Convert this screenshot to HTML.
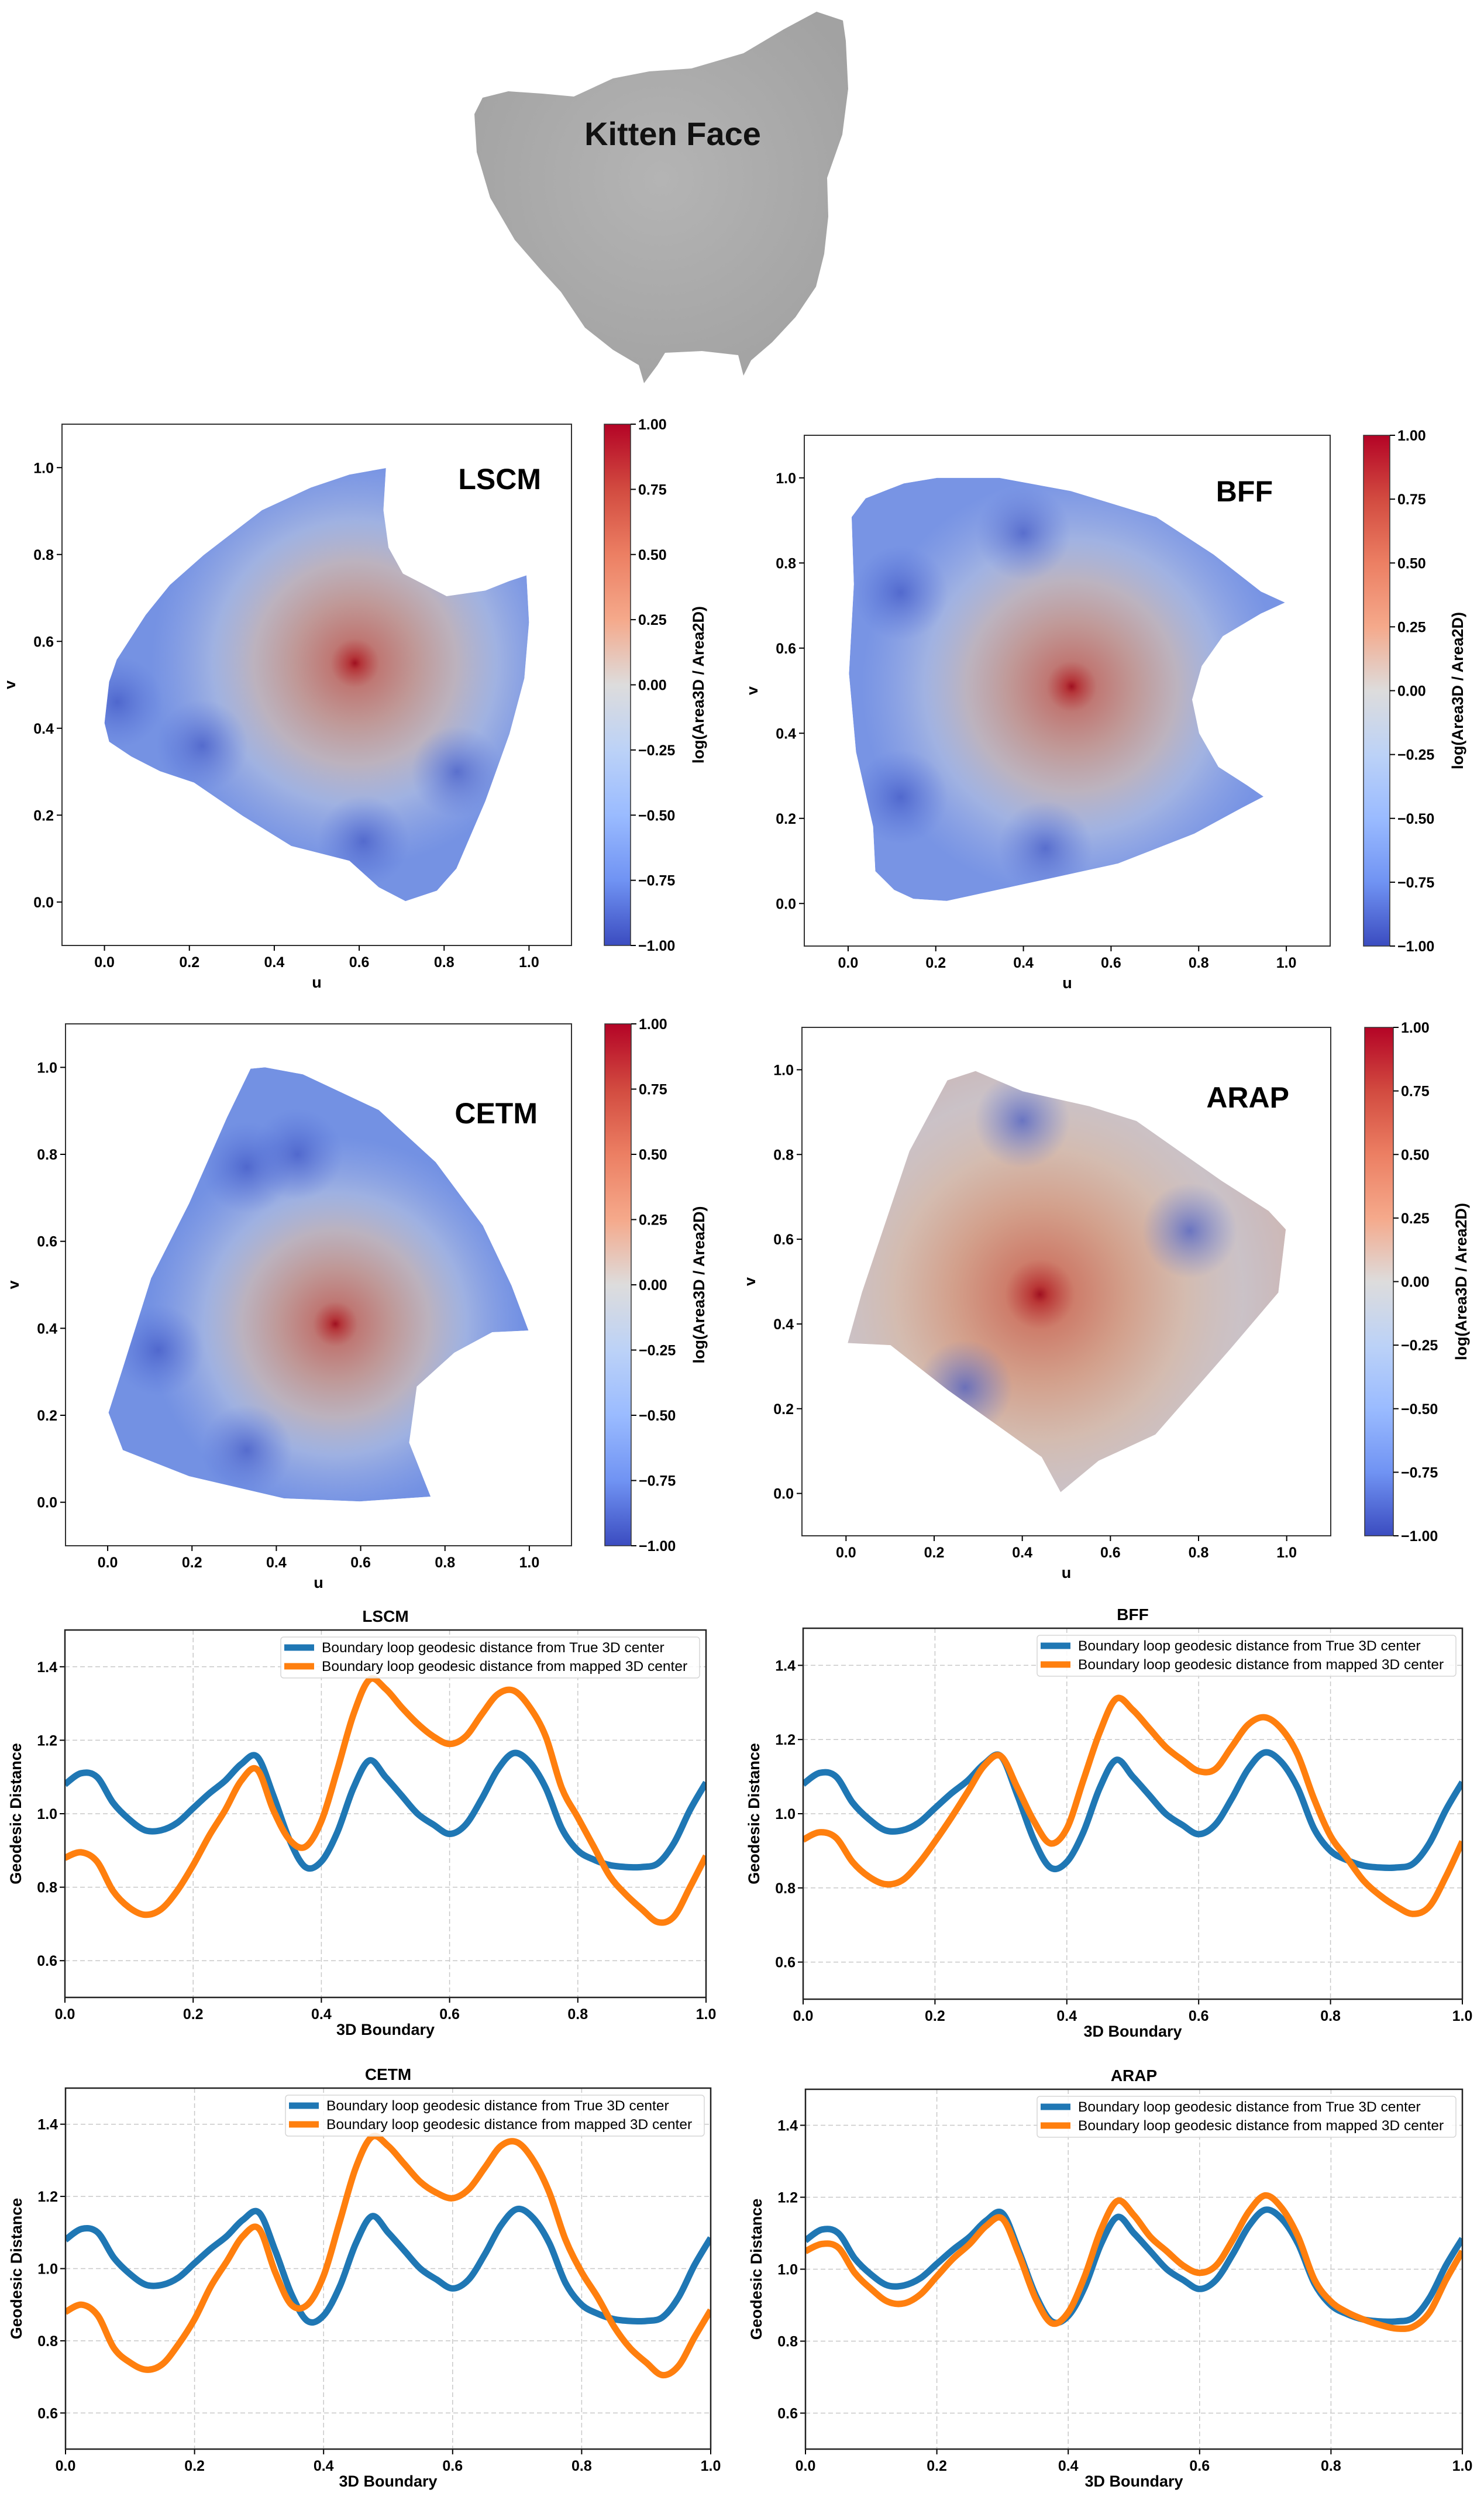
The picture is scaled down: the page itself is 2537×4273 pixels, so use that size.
<!DOCTYPE html>
<html><head><meta charset="utf-8"><style>
html,body{margin:0;padding:0;background:#fff;}
svg{display:block;font-family:"Liberation Sans",sans-serif;}
</style></head><body>
<svg id="fig" xmlns="http://www.w3.org/2000/svg" width="2537" height="4273" viewBox="0 0 2537 4273">
<defs>
<linearGradient id="cw" x1="0" y1="0" x2="0" y2="1">
<stop offset="0" stop-color="#b40426"/><stop offset="0.125" stop-color="#d24b40"/><stop offset="0.25" stop-color="#ec7f63"/><stop offset="0.375" stop-color="#f5a98b"/><stop offset="0.5" stop-color="#dddcdc"/><stop offset="0.625" stop-color="#bcd2f7"/><stop offset="0.75" stop-color="#9abbff"/><stop offset="0.875" stop-color="#7093f3"/><stop offset="1" stop-color="#3b4cc0"/>
</linearGradient>
<radialGradient id="kg" cx="0.5" cy="0.45" r="0.6"><stop offset="0" stop-color="#b4b4b4"/><stop offset="1" stop-color="#a2a2a2"/></radialGradient>
</defs>
<g>
<path d="M825,167 L811,195 L815,260 L838,338 L880,410 L927,464 L959,499 L1000,560 L1048,598 L1092,624 L1101,655 L1124,624 L1137,603 L1200,600 L1262,607 L1271,642 L1284,616 L1320,585 L1360,542 L1395,490 L1409,434 L1416,370 L1414,304 L1440,230 L1450,152 L1446,70 L1441,35 L1396,20 L1340,50 L1271,91 L1182,117 L1110,122 L1048,134 L981,165 L927,160 L869,156 Z" fill="url(#kg)"/>
<text x="1150" y="248" text-anchor="middle" font-size="56" font-weight="bold" fill="#111">Kitten Face</text>
</g>
<g id="heat"></g>
<g id="lines"></g>
</svg>
<script>
// ---------- Line chart data ----------
const xs = [0,0.025,0.05,0.075,0.1,0.125,0.15,0.175,0.2,0.225,0.25,0.275,0.3,0.325,0.35,0.375,0.4,0.425,0.45,0.475,0.5,0.525,0.55,0.575,0.6,0.625,0.65,0.675,0.7,0.725,0.75,0.775,0.8,0.825,0.85,0.875,0.9,0.925,0.95,0.975,1];
const trueCenter = [1.08,1.11,1.10,1.03,0.985,0.955,0.955,0.975,1.015,1.055,1.09,1.135,1.155,1.05,0.93,0.855,0.87,0.95,1.07,1.145,1.10,1.05,1.00,0.97,0.945,0.97,1.04,1.12,1.165,1.14,1.07,0.96,0.90,0.875,0.86,0.855,0.855,0.865,0.92,1.01,1.085];
const lscmMapped = [0.88,0.895,0.87,0.79,0.745,0.725,0.74,0.79,0.86,0.94,1.01,1.09,1.12,1.01,0.93,0.91,0.98,1.12,1.27,1.365,1.34,1.29,1.245,1.21,1.19,1.21,1.27,1.325,1.335,1.29,1.21,1.07,0.99,0.91,0.83,0.78,0.74,0.705,0.72,0.80,0.885];
const bffMapped = [0.93,0.95,0.935,0.87,0.83,0.81,0.82,0.865,0.925,0.99,1.06,1.13,1.155,1.07,0.98,0.92,0.96,1.09,1.22,1.31,1.28,1.23,1.18,1.145,1.115,1.12,1.18,1.24,1.26,1.23,1.16,1.04,0.94,0.88,0.82,0.78,0.75,0.73,0.75,0.83,0.925];
const cetmMapped = [0.88,0.90,0.87,0.78,0.74,0.72,0.735,0.79,0.86,0.95,1.02,1.09,1.11,0.99,0.90,0.90,0.98,1.13,1.28,1.365,1.34,1.29,1.24,1.21,1.195,1.22,1.28,1.34,1.35,1.30,1.21,1.08,0.99,0.92,0.84,0.78,0.74,0.705,0.73,0.81,0.885];
const arapMapped = [1.05,1.07,1.06,0.99,0.945,0.91,0.905,0.93,0.98,1.03,1.07,1.12,1.14,1.04,0.92,0.85,0.88,0.98,1.11,1.19,1.15,1.09,1.05,1.01,0.99,1.01,1.08,1.16,1.205,1.17,1.09,0.97,0.91,0.88,0.86,0.845,0.835,0.84,0.88,0.97,1.05];
const xTickVals = [0,0.2,0.4,0.6,0.8,1.0];
const xTickLabels = ["0.0","0.2","0.4","0.6","0.8","1.0"];
const yTickVals = [0.6,0.8,1.0,1.2,1.4];
const yTickLabels = ["0.6","0.8","1.0","1.2","1.4"];
const legendLabels = ["Boundary loop geodesic distance from True 3D center","Boundary loop geodesic distance from mapped 3D center"];
// ---------- Heatmap axis / colorbar data ----------
const uvTickVals = [0,0.2,0.4,0.6,0.8,1.0];
const uvTickLabels = ["0.0","0.2","0.4","0.6","0.8","1.0"];
const cbTickVals = [1,0.75,0.5,0.25,0,-0.25,-0.5,-0.75,-1];
const cbTickLabels = ["1.00","0.75","0.50","0.25","0.00","\u22120.25","\u22120.50","\u22120.75","\u22121.00"];
const lscmBoundary = [[0.663,0.999],[0.657,0.902],[0.669,0.816],[0.703,0.756],[0.806,0.704],[0.897,0.717],[0.954,0.739],[0.994,0.752],[1.0,0.644],[0.989,0.515],[0.954,0.387],[0.897,0.232],[0.829,0.077],[0.783,0.026],[0.709,0.002],[0.646,0.034],[0.577,0.095],[0.44,0.129],[0.326,0.198],[0.211,0.275],[0.131,0.301],[0.063,0.335],[0.011,0.369],[0,0.412],[0.011,0.507],[0.029,0.558],[0.097,0.661],[0.154,0.73],[0.234,0.799],[0.371,0.902],[0.486,0.954],[0.577,0.984]];
const bffBoundary = [[0.008,0.908],[0.04,0.952],[0.127,0.987],[0.203,1.0],[0.345,1.0],[0.508,0.969],[0.703,0.908],[0.834,0.82],[0.942,0.733],[0.997,0.707],[0.942,0.681],[0.855,0.628],[0.807,0.558],[0.785,0.479],[0.801,0.4],[0.845,0.321],[0.91,0.278],[0.948,0.251],[0.899,0.225],[0.79,0.164],[0.616,0.094],[0.421,0.05],[0.225,0.006],[0.149,0.011],[0.105,0.032],[0.062,0.076],[0.057,0.181],[0.018,0.356],[0.002,0.54],[0.013,0.75]];
const cetmBoundary = [[0.339,0.997],[0.373,1.0],[0.463,0.984],[0.643,0.902],[0.778,0.782],[0.89,0.636],[0.958,0.498],[0.998,0.395],[0.912,0.391],[0.822,0.344],[0.733,0.266],[0.715,0.137],[0.766,0.013],[0.598,0.002],[0.418,0.009],[0.193,0.06],[0.036,0.12],[0.002,0.206],[0.036,0.309],[0.103,0.515],[0.193,0.687],[0.283,0.885]];
const arapBoundary = [[0.004,0.355],[0.036,0.474],[0.144,0.808],[0.23,0.975],[0.294,0.997],[0.401,0.949],[0.552,0.914],[0.659,0.879],[0.852,0.738],[0.959,0.667],[0.998,0.623],[0.981,0.474],[0.873,0.342],[0.702,0.139],[0.573,0.077],[0.487,0.003],[0.444,0.086],[0.23,0.245],[0.101,0.35]];
const lscmHot = [0.59,0.55], bffHot = [0.51,0.51], cetmHot = [0.54,0.41], arapHot = [0.44,0.47];
const lscmCold = [[0.23,0.36],[0.61,0.14],[0.83,0.3],[0.03,0.46]];
const bffCold = [[0.12,0.73],[0.12,0.25],[0.45,0.13],[0.4,0.87]];
const cetmCold = [[0.33,0.77],[0.12,0.35],[0.33,0.12],[0.45,0.8]];
const arapCold = [[0.27,0.25],[0.78,0.62],[0.4,0.88]];

const NS = "http://www.w3.org/2000/svg";
function mk(tag, attrs, parent){ const e=document.createElementNS(NS,tag); for(const k in attrs) e.setAttribute(k,attrs[k]); parent.appendChild(e); return e; }
function txt(parent, x, y, s, size, anchor, extra){ const t=mk('text',Object.assign({x:x,y:y,'font-size':size,'font-weight':'bold','text-anchor':anchor||'middle',fill:'#000'},extra||{}),parent); t.textContent=s; return t; }

// ---------- Heatmaps ----------
const heat = document.getElementById('heat');
const heatPanels = [
 {name:'lscm', title:'LSCM', ax:[106,725,977,1616], cb:[1033,1078], tx:925, ty:836, poly:lscmBoundary, hot:lscmHot, cold:lscmCold, base:'#7592e3', warm:0.40},
 {name:'bff', title:'BFF', ax:[1375,744,2274,1617], cb:[2331,2376], tx:2176, ty:857, poly:bffBoundary, hot:bffHot, cold:bffCold, base:'#7894e4', warm:0.40},
 {name:'cetm', title:'CETM', ax:[112,1750,977,2642], cb:[1034,1079], tx:919, ty:1920, poly:cetmBoundary, hot:cetmHot, cold:cetmCold, base:'#7391e3', warm:0.37},
 {name:'arap', title:'ARAP', ax:[1371,1756,2275,2625], cb:[2333,2382], tx:2204, ty:1893, poly:arapBoundary, hot:arapHot, cold:arapCold, base:'#d5b6a8', warm:0.55}
];
heatPanels.forEach(function(p){
  const g = mk('g',{},heat);
  
  
  const [x0,y0,x1,y1] = p.ax;
  const sx = u => x0 + (u+0.1)/1.2*(x1-x0);
  const sy = v => y1 - (v+0.1)/1.2*(y1-y0);
  const defs = mk('defs',{},g);
  const cp = mk('clipPath',{id:'clip-'+p.name},defs);
  const pts = p.poly.map(q=>sx(q[0]).toFixed(1)+','+sy(q[1]).toFixed(1)).join(' ');
  mk('polygon',{points:pts},cp);
  const rg = mk('radialGradient',{id:'hot-'+p.name, gradientUnits:'userSpaceOnUse', cx:sx(p.hot[0]), cy:sy(p.hot[1]), r:(x1-x0)*p.warm},defs);
  [['0','#a01020',1],['0.03','#b83030',0.95],['0.12','#cc7360',0.85],['0.3','#d29a84',0.8],['0.5','#d3bdb2',0.75],['0.7','#c2cbe0',0.55],['1','#a8b8e8',0]].forEach(s=>mk('stop',{offset:s[0],'stop-color':s[1],'stop-opacity':s[2]},rg));
  const cg = mk('radialGradient',{id:'cold-'+p.name},defs);
  mk('stop',{offset:'0','stop-color':'#3f55c4','stop-opacity':0.7},cg);
  mk('stop',{offset:'1','stop-color':'#5570d8','stop-opacity':0},cg);
  const fillG = mk('g',{'clip-path':'url(#clip-'+p.name+')'},g);
  const shape = mk('polygon',{points:pts, fill:p.base},fillG);
  
  
  mk('rect',{x:x0,y:y0,width:x1-x0,height:y1-y0,fill:'url(#hot-'+p.name+')'},fillG);
  p.cold.forEach(function(c){
    const bl = mk('circle',{cx:sx(c[0]), cy:sy(c[1]), r:(x1-x0)*0.09, fill:'url(#cold-'+p.name+')'},fillG);
    
    
  });
  const frame = mk('rect',{x:x0,y:y0,width:x1-x0,height:y1-y0,fill:'none',stroke:'#333','stroke-width':2},g);
  
  
  uvTickVals.forEach(function(v,i){
    mk('line',{x1:sx(v),x2:sx(v),y1:y1,y2:y1+9,stroke:'#000','stroke-width':2},g);
    const tx = txt(g, sx(v), y1+37, uvTickLabels[i], 25);
    
    
    mk('line',{x1:x0-9,x2:x0,y1:sy(v),y2:sy(v),stroke:'#000','stroke-width':2},g);
    const ty = txt(g, x0-14, sy(v)+9, uvTickLabels[i], 25, 'end');
    
    
  });
  const ul = txt(g, (x0+x1)/2, y1+72, 'u', 27);
  
  
  const vl = txt(g, 0, 0, 'v', 27, 'middle', {transform:'translate('+(x0-80)+','+((y0+y1)/2)+') rotate(-90)'});
  
  
  const mt = txt(g, p.tx, p.ty, p.title, 50, 'end');
  
  
  // colorbar
  const [c0,c1] = p.cb;
  const cb = mk('rect',{x:c0,y:y0,width:c1-c0,height:y1-y0,fill:'url(#cw)',stroke:'#333','stroke-width':1.5},g);
  
  
  const cy = v => y0 + (1-v)/2*(y1-y0);
  cbTickVals.forEach(function(v,i){
    mk('line',{x1:c1,x2:c1+9,y1:cy(v),y2:cy(v),stroke:'#000','stroke-width':2},g);
    const ct = txt(g, c1+13, cy(v)+9, cbTickLabels[i], 25, 'start');
    
    
  });
  const cl = txt(g, 0, 0, 'log(Area3D / Area2D)', 27, 'middle', {transform:'translate('+(c1+125)+','+((y0+y1)/2)+') rotate(-90)'});
  
  
});

// ---------- Line charts ----------
const lines = document.getElementById('lines');
const linePanels = [
 {name:'lscm', title:'LSCM', ax:[111,2786,1207,3414], mapped:lscmMapped},
 {name:'bff', title:'BFF', ax:[1373,2783,2500,3417], mapped:bffMapped},
 {name:'cetm', title:'CETM', ax:[112,3569,1215,4186], mapped:cetmMapped},
 {name:'arap', title:'ARAP', ax:[1377,3571,2500,4186], mapped:arapMapped}
];
function smoothPath(P){
  let d='M'+P[0][0].toFixed(1)+','+P[0][1].toFixed(1);
  for(let i=0;i<P.length-1;i++){
    const p0=P[Math.max(0,i-1)],p1=P[i],p2=P[i+1],p3=P[Math.min(P.length-1,i+2)];
    const c1=[p1[0]+(p2[0]-p0[0])/6,p1[1]+(p2[1]-p0[1])/6], c2=[p2[0]-(p3[0]-p1[0])/6,p2[1]-(p3[1]-p1[1])/6];
    d+=' C'+c1[0].toFixed(1)+','+c1[1].toFixed(1)+' '+c2[0].toFixed(1)+','+c2[1].toFixed(1)+' '+p2[0].toFixed(1)+','+p2[1].toFixed(1);
  }
  return d;
}
linePanels.forEach(function(p){
  const g = mk('g',{},lines);
  
  
  const [x0,y0,x1,y1] = p.ax;
  const sx = x => x0 + x*(x1-x0);
  const sy = y => y1 - (y-0.5)*(y1-y0);
  xTickVals.forEach(function(v,i){
    if(v>0 && v<1){ const gl = mk('line',{x1:sx(v),x2:sx(v),y1:y0,y2:y1,stroke:'#c8c8c8','stroke-width':1.5,'stroke-dasharray':'8,5'},g);
      
       }
    mk('line',{x1:sx(v),x2:sx(v),y1:y1,y2:y1+9,stroke:'#000','stroke-width':2},g);
    const t = txt(g, sx(v), y1+37, xTickLabels[i], 25);
    
    
  });
  yTickVals.forEach(function(v,i){
    const gl = mk('line',{x1:x0,x2:x1,y1:sy(v),y2:sy(v),stroke:'#c8c8c8','stroke-width':1.5,'stroke-dasharray':'8,5'},g);
    
    
    mk('line',{x1:x0-9,x2:x0,y1:sy(v),y2:sy(v),stroke:'#000','stroke-width':2},g);
    const t = txt(g, x0-13, sy(v)+9, yTickLabels[i], 25, 'end');
    
    
  });
  const clipId='lc-'+p.name;
  const cp = mk('clipPath',{id:clipId},mk('defs',{},g));
  mk('rect',{x:x0,y:y0,width:x1-x0,height:y1-y0},cp);
  const blue = mk('path',{d:smoothPath(xs.map((x,i)=>[sx(x),sy(trueCenter[i])])),fill:'none',stroke:'#1f77b4','stroke-width':11,'stroke-linejoin':'round','clip-path':'url(#'+clipId+')'},g);
  
  
  const orange = mk('path',{d:smoothPath(xs.map((x,i)=>[sx(x),sy(p.mapped[i])])),fill:'none',stroke:'#ff7f0e','stroke-width':11,'stroke-linejoin':'round','clip-path':'url(#'+clipId+')'},g);
  
  
  const frame = mk('rect',{x:x0,y:y0,width:x1-x0,height:y1-y0,fill:'none',stroke:'#222','stroke-width':2.5},g);
  
  
  const tt = txt(g, (x0+x1)/2, y0-14, p.title, 28);
  
  
  const xl = txt(g, (x0+x1)/2, y1+64, '3D Boundary', 27);
  
  
  const yl = txt(g, 0, 0, 'Geodesic Distance', 27, 'middle', {transform:'translate('+(x0-75)+','+((y0+y1)/2)+') rotate(-90)'});
  
  
  // legend
  const lg = mk('g',{},g);
  
  
  const lx0 = x1-727, ly0 = y0+12;
  mk('rect',{x:lx0,y:ly0,width:716,height:70,rx:5,fill:'#fff','fill-opacity':0.85,stroke:'#d6d6d6','stroke-width':1.5},lg);
  ['#1f77b4','#ff7f0e'].forEach(function(c,i){
    const yy = ly0+18+i*32;
    mk('line',{x1:lx0+6,x2:lx0+57,y1:yy,y2:yy,stroke:c,'stroke-width':11},lg);
    const t = mk('text',{x:lx0+70,y:yy+8,'font-size':24.5,fill:'#000'},lg);
    t.textContent = legendLabels[i];
    
    
  });
});
</script>
</body></html>
